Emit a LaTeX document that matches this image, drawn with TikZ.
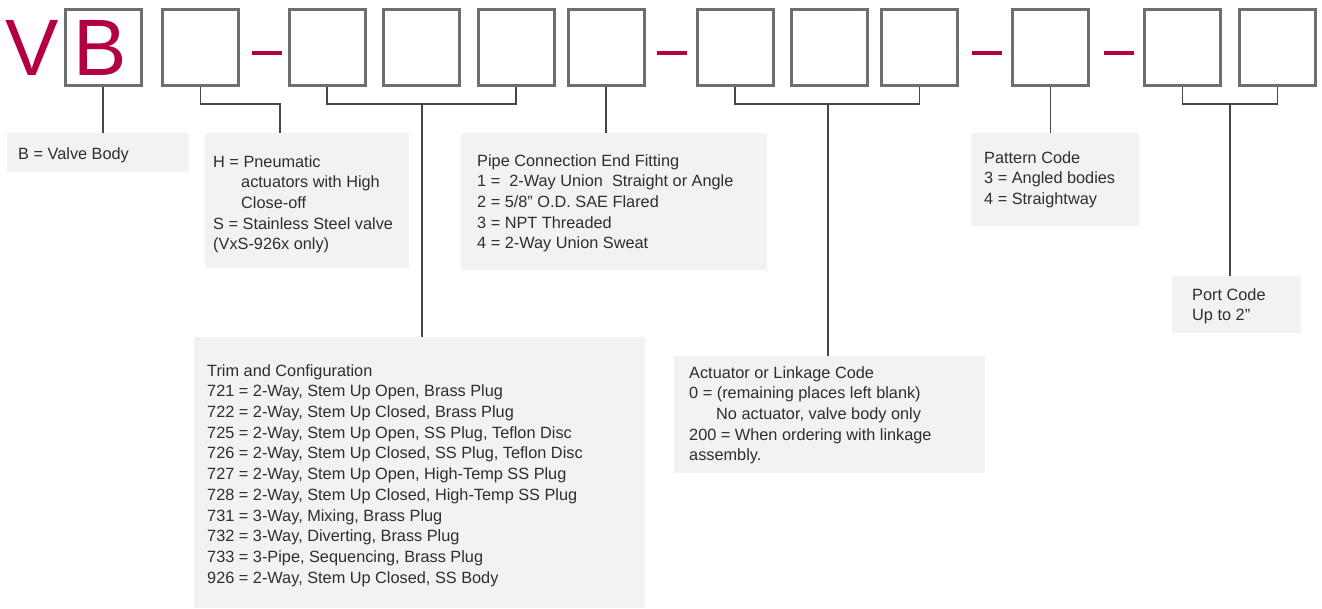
\documentclass[tikz,border=0pt]{standalone}
\usepackage{fontspec}
\setmainfont{Liberation Sans}
\definecolor{crim}{RGB}{178,0,66}
\definecolor{boxgray}{RGB}{110,110,115}
\definecolor{infofill}{HTML}{F2F2F2}
\definecolor{txt}{HTML}{2E2E2E}
\definecolor{conn}{RGB}{70,70,70}
\begin{document}
\begin{tikzpicture}[x=1pt,y=-1pt,
  codebox/.style={draw=boxgray,line width=3pt,minimum width=76pt,minimum height=76pt,inner sep=0pt},
  dashbar/.style={fill=crim,draw=none,minimum width=30pt,minimum height=4pt,inner sep=0pt},
  infobox/.style={fill=infofill,draw=none,anchor=north west,inner sep=0pt},
  infotext/.style={anchor=north west,inner sep=0pt,align=left,text=txt,font=\fontsize{16.3}{20.7}\selectfont},
  bigletter/.style={anchor=base west,inner sep=0pt,text=crim,font=\fontsize{80}{80}\selectfont},
  conline/.style={draw=conn,line width=1.1pt}]
\useasboundingbox (0,0) rectangle (1322,609);
% code boxes
\node[codebox] (c1) at (103,47.5) {};
\node[codebox] (c2) at (200.5,47.5) {};
\node[codebox] (c3) at (327,47.5) {};
\node[codebox] (c4) at (421,47.5) {};
\node[codebox] (c5) at (516,47.5) {};
\node[codebox] (c6) at (606,47.5) {};
\node[codebox] (c7) at (735,47.5) {};
\node[codebox] (c8) at (829.5,47.5) {};
\node[codebox] (c9) at (919.5,47.5) {};
\node[codebox] (c10) at (1050.5,47.5) {};
\node[codebox] (c11) at (1182.5,47.5) {};
\node[codebox] (c12) at (1277.5,47.5) {};
% dashes
\node[dashbar] (d1) at (267,52.7) {};
\node[dashbar] (d2) at (672,52.7) {};
\node[dashbar] (d3) at (987,52.7) {};
\node[dashbar] (d4) at (1119,52.7) {};
% letters
\node[bigletter] (lv) at (5,76) {V};
\node[bigletter] (lb) at (73,76) {B};
% info boxes
\node[infobox,minimum width=182pt,minimum height=39pt] (ib) at (7,133) {};
\node[infobox,minimum width=204pt,minimum height=135pt] (ih) at (205,133) {};
\node[infobox,minimum width=306pt,minimum height=137pt] (ip) at (461,133) {};
\node[infobox,minimum width=168pt,minimum height=93pt] (ipat) at (971,133) {};
\node[infobox,minimum width=129pt,minimum height=57pt] (iport) at (1172,276) {};
\node[infobox,minimum width=451pt,minimum height=271pt] (itrim) at (194,337) {};
\node[infobox,minimum width=311pt,minimum height=117pt] (iact) at (674,356) {};
% texts
\node[infotext] (tb) at (18,147.1) {B = Valve Body};
\node[infotext] (th) at (213,155.1) {H = Pneumatic\\\hspace*{28pt}actuators with High\\\hspace*{28pt}Close-off\\S = Stainless Steel valve\\(VxS-926x only)};
\node[infotext] (tp) at (477,154.1) {Pipe Connection End Fitting\\1 = \ 2-Way Union \ Straight or Angle\\2 = 5/8\symbol{34} O.D. SAE Flared\\3 = NPT Threaded\\4 = 2-Way Union Sweat};
\node[infotext] (tpat) at (984,151.1) {Pattern Code\\3 = Angled bodies\\4 = Straightway};
\node[infotext] (tport) at (1192,288.1) {Port Code\\Up to 2”};
\node[infotext] (ttrim) at (207,364.1) {Trim and Configuration\\721 = 2-Way, Stem Up Open, Brass Plug\\722 = 2-Way, Stem Up Closed, Brass Plug\\725 = 2-Way, Stem Up Open, SS Plug, Teflon Disc\\726 = 2-Way, Stem Up Closed, SS Plug, Teflon Disc\\727 = 2-Way, Stem Up Open, High-Temp SS Plug\\728 = 2-Way, Stem Up Closed, High-Temp SS Plug\\731 = 3-Way, Mixing, Brass Plug\\732 = 3-Way, Diverting, Brass Plug\\733 = 3-Pipe, Sequencing, Brass Plug\\926 = 2-Way, Stem Up Closed, SS Body};
\node[infotext] (tact) at (689,366.1) {Actuator or Linkage Code\\0 = (remaining places left blank)\\\hspace*{27pt}No actuator, valve body only\\200 = When ordering with linkage\\assembly.};
% connectors
\coordinate (j2) at (280,104);
\coordinate (j345) at (422,104);
\coordinate (j789) at (828,104);
\coordinate (j1112) at (1230,104);
\draw[conline] (c1.south) -- (c1.south |- ib.north);
\draw[conline] (c2.south) |- (j2) -- (j2 |- ih.north);
\draw[conline] (c3.south) |- (j345) -| (c5.south);
\draw[conline] (j345) -- (j345 |- itrim.north);
\draw[conline] (c6.south) -- (c6.south |- ip.north);
\draw[conline] (c7.south) |- (j789) -| (c9.south);
\draw[conline] (j789) -- (j789 |- iact.north);
\draw[conline] (c10.south) -- (c10.south |- ipat.north);
\draw[conline] (c11.south) |- (j1112) -| (c12.south);
\draw[conline] (j1112) -- (j1112 |- iport.north);
\end{tikzpicture}
\end{document}
